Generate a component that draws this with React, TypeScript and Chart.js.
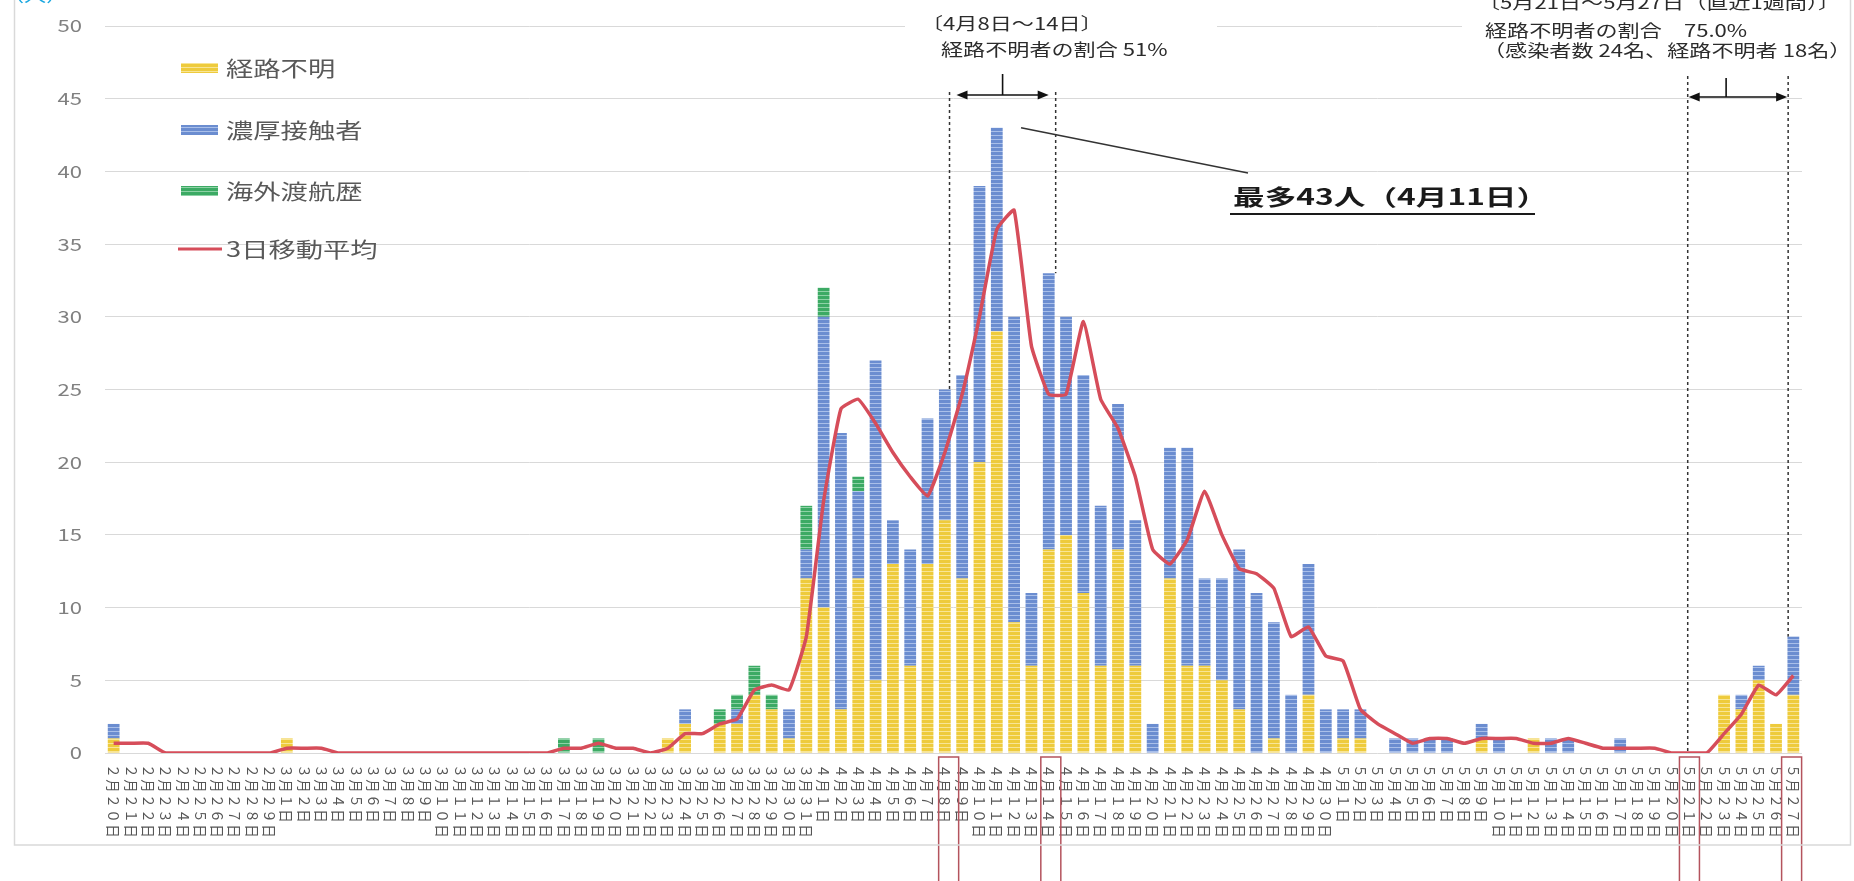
import React, { useEffect, useRef } from "react";
import { Chart, registerables } from "chart.js";

Chart.register(...registerables);

// ---------- data ----------
const categories = [
  "2月20日", "2月21日", "2月22日", "2月23日", "2月24日", "2月25日", "2月26日", "2月27日", "2月28日", "2月29日",
  "3月1日", "3月2日", "3月3日", "3月4日", "3月5日", "3月6日", "3月7日", "3月8日", "3月9日", "3月10日",
  "3月11日", "3月12日", "3月13日", "3月14日", "3月15日", "3月16日", "3月17日", "3月18日", "3月19日", "3月20日",
  "3月21日", "3月22日", "3月23日", "3月24日", "3月25日", "3月26日", "3月27日", "3月28日", "3月29日", "3月30日",
  "3月31日", "4月1日", "4月2日", "4月3日", "4月4日", "4月5日", "4月6日", "4月7日", "4月8日", "4月9日",
  "4月10日", "4月11日", "4月12日", "4月13日", "4月14日", "4月15日", "4月16日", "4月17日", "4月18日", "4月19日",
  "4月20日", "4月21日", "4月22日", "4月23日", "4月24日", "4月25日", "4月26日", "4月27日", "4月28日", "4月29日",
  "4月30日", "5月1日", "5月2日", "5月3日", "5月4日", "5月5日", "5月6日", "5月7日", "5月8日", "5月9日",
  "5月10日", "5月11日", "5月12日", "5月13日", "5月14日", "5月15日", "5月16日", "5月17日", "5月18日", "5月19日",
  "5月20日", "5月21日", "5月22日", "5月23日", "5月24日", "5月25日", "5月26日", "5月27日",
];

const unknownRoute = [
  1, 0, 0, 0, 0, 0, 0, 0, 0, 0,
  1, 0, 0, 0, 0, 0, 0, 0, 0, 0,
  0, 0, 0, 0, 0, 0, 0, 0, 0, 0,
  0, 0, 1, 2, 0, 2, 2, 4, 3, 1,
  12, 10, 3, 12, 5, 13, 6, 13, 16, 12,
  20, 29, 9, 6, 14, 15, 11, 6, 14, 6,
  0, 12, 6, 6, 5, 3, 0, 1, 0, 4,
  0, 1, 1, 0, 0, 0, 0, 0, 0, 1,
  0, 0, 1, 0, 0, 0, 0, 0, 0, 0,
  0, 0, 0, 4, 3, 5, 2, 4,
];

const closeContact = [
  1, 0, 0, 0, 0, 0, 0, 0, 0, 0,
  0, 0, 0, 0, 0, 0, 0, 0, 0, 0,
  0, 0, 0, 0, 0, 0, 0, 0, 0, 0,
  0, 0, 0, 1, 0, 0, 1, 0, 0, 2,
  2, 20, 19, 6, 22, 3, 8, 10, 9, 14,
  19, 14, 21, 5, 19, 15, 15, 11, 10, 10,
  2, 9, 15, 6, 7, 11, 11, 8, 4, 9,
  3, 2, 2, 0, 1, 1, 1, 1, 0, 1,
  1, 0, 0, 1, 1, 0, 0, 1, 0, 0,
  0, 0, 0, 0, 1, 1, 0, 4,
];

const overseasTravel = [
  0, 0, 0, 0, 0, 0, 0, 0, 0, 0,
  0, 0, 0, 0, 0, 0, 0, 0, 0, 0,
  0, 0, 0, 0, 0, 0, 1, 0, 1, 0,
  0, 0, 0, 0, 0, 1, 1, 2, 1, 0,
  3, 2, 0, 1, 0, 0, 0, 0, 0, 0,
  0, 0, 0, 0, 0, 0, 0, 0, 0, 0,
  0, 0, 0, 0, 0, 0, 0, 0, 0, 0,
  0, 0, 0, 0, 0, 0, 0, 0, 0, 0,
  0, 0, 0, 0, 0, 0, 0, 0, 0, 0,
  0, 0, 0, 0, 0, 0, 0, 0,
];

const movingAverage3 = [
  0.67, 0.67, 0.67, 0, 0, 0, 0, 0, 0, 0,
  0.33, 0.33, 0.33, 0, 0, 0, 0, 0, 0, 0,
  0, 0, 0, 0, 0, 0, 0.33, 0.33, 0.67, 0.33,
  0.33, 0, 0.33, 1.33, 1.33, 2, 2.33, 4.33, 4.67, 4.33,
  8, 17.33, 23.67, 24.33, 22.67, 20.67, 19, 17.67, 20.67, 24.67,
  30, 36, 37.33, 28, 24.67, 24.67, 29.67, 24.33, 22.33, 19,
  14, 13, 14.67, 18, 15, 12.67, 12.33, 11.33, 8, 8.67,
  6.67, 6.33, 3, 2, 1.33, 0.67, 1, 1, 0.67, 1,
  1, 1, 0.67, 0.67, 1, 0.67, 0.33, 0.33, 0.33, 0.33,
  0, 0, 0, 1.33, 2.67, 4.67, 4, 5.33,
];

const seriesNames = ["経路不明", "濃厚接触者", "海外渡航歴", "3日移動平均"];
const yMin = 0;
const yMax = 50;
const yStep = 5;

// annotation texts
const noteLeft = ["〔4月8日～14日〕", "経路不明者の割合 51%"];
const noteRight = ["〔5月21日～5月27日（直近1週間）〕", "経路不明者の割合　75.0%", "（感染者数 24名、経路不明者 18名）"];
const notePeak = "最多43人（4月11日）";
const peakIndex = 51;
const unitText = "（人）";

// ---------- layout / style constants ----------
const W = 1854;
const H = 881;
const FONT = '"Noto Sans CJK JP", "Noto Sans", sans-serif';
const LINE_COLOR = "#d64d5a";

const dashMarks = [
  { idx: 48, off: 0.27, top: 92 },
  { idx: 54, off: 0.4, top: 92 },
  { idx: 91, off: -0.1, top: 76 },
  { idx: 97, off: -0.3, top: 76 },
];
const boxMarks = [
  { idx: 48, off: 0.22 },
  { idx: 54, off: 0.12 },
  { idx: 91, off: 0 },
  { idx: 97, off: -0.1 },
];

function makePattern(ctx: CanvasRenderingContext2D, base: string, stripe: string) {
  const c = document.createElement("canvas");
  c.width = 4;
  c.height = 4;
  const g = c.getContext("2d")!;
  g.fillStyle = base;
  g.fillRect(0, 0, 4, 4);
  g.fillStyle = stripe;
  g.fillRect(0, 3, 4, 1);
  return ctx.createPattern(c, "repeat")!;
}

function sText(
  ctx: CanvasRenderingContext2D,
  text: string,
  x: number,
  y: number,
  font: string,
  color: string,
  align: CanvasTextAlign = "left",
  sx = 1.3
) {
  ctx.save();
  ctx.translate(x, y);
  ctx.scale(sx, 1);
  ctx.font = font;
  ctx.fillStyle = color;
  ctx.textAlign = align;
  ctx.textBaseline = "middle";
  ctx.fillText(text, 0, 0);
  ctx.restore();
}

function arrowHead(ctx: CanvasRenderingContext2D, tipX: number, y: number, dir: number) {
  ctx.beginPath();
  ctx.moveTo(tipX, y);
  ctx.lineTo(tipX - dir * 11, y - 4.5);
  ctx.lineTo(tipX - dir * 11, y + 4.5);
  ctx.closePath();
  ctx.fill();
}

const toWide = (s: string) => s.replace(/[0-9]/g, (d) => String.fromCharCode(d.charCodeAt(0) + 0xfee0));
const totalAt = (i: number) => unknownRoute[i] + closeContact[i] + overseasTravel[i];

const annotationPlugin = {
  id: "annotations",
  beforeDatasetsDraw(chart: any) {
    const { ctx } = chart;
    const x = chart.scales.x;
    const y = chart.scales.y;
    const step = x.getPixelForValue(1) - x.getPixelForValue(0);
    ctx.save();
    // white backgrounds behind annotation texts
    ctx.fillStyle = "#ffffff";
    ctx.fillRect(905, 6, 312, 56);
    ctx.fillRect(1462, 0, W - 1462, 62);
    // dashed range markers (behind the bars)
    ctx.setLineDash([3, 3]);
    ctx.strokeStyle = "#333333";
    ctx.lineWidth = 1.5;
    for (const d of dashMarks) {
      const px = x.getPixelForValue(d.idx) + d.off * step;
      ctx.beginPath();
      ctx.moveTo(px, d.top);
      ctx.lineTo(px, y.getPixelForValue(totalAt(d.idx)));
      ctx.stroke();
    }
    ctx.restore();
  },
  afterDraw(chart: any) {
    const { ctx } = chart;
    const x = chart.scales.x;
    const y = chart.scales.y;
    const step = x.getPixelForValue(1) - x.getPixelForValue(0);
    const dashX = dashMarks.map((d) => x.getPixelForValue(d.idx) + d.off * step);

    ctx.save();
    // y tick labels
    for (const t of y.ticks) {
      sText(ctx, String(t.value), 82, y.getPixelForValue(t.value), `17px ${FONT}`, "#808080", "right", 1.3);
    }

    // x tick labels, rotated 90deg clockwise, one character per cell
    ctx.fillStyle = "#555555";
    ctx.font = `13.5px ${FONT}`;
    ctx.textAlign = "center";
    ctx.textBaseline = "middle";
    for (let i = 0; i < categories.length; i++) {
      const px = x.getPixelForValue(i);
      Array.from(toWide(categories[i])).forEach((ch, k) => {
        ctx.save();
        ctx.translate(px, 771 + k * 15);
        ctx.scale(1.05, 1);
        ctx.rotate(Math.PI / 2);
        ctx.fillText(ch, 0, 0);
        ctx.restore();
      });
    }

    // red boxes around highlighted date labels
    ctx.strokeStyle = "#b4535d";
    ctx.lineWidth = 1.5;
    for (const b of boxMarks) {
      const px = x.getPixelForValue(b.idx) + b.off * step;
      ctx.strokeRect(px - 10, 757, 20, 140);
    }

    // double arrows
    ctx.fillStyle = "#111111";
    ctx.strokeStyle = "#111111";
    ctx.lineWidth = 1.6;
    const arrows = [
      { a: 0, b: 1, yy: 95, inset: 7, tickTop: 74, frac: 0.5 },
      { a: 2, b: 3, yy: 97, inset: 1, tickTop: 78, frac: 0.38 },
    ];
    for (const ar of arrows) {
      const x1 = dashX[ar.a] + ar.inset;
      const x2 = dashX[ar.b] - ar.inset;
      ctx.beginPath();
      ctx.moveTo(x1 + 6, ar.yy);
      ctx.lineTo(x2 - 6, ar.yy);
      ctx.stroke();
      arrowHead(ctx, x1, ar.yy, -1);
      arrowHead(ctx, x2, ar.yy, 1);
      const tx = x1 + (x2 - x1) * ar.frac;
      ctx.beginPath();
      ctx.moveTo(tx, ar.tickTop);
      ctx.lineTo(tx, ar.yy);
      ctx.stroke();
    }

    // annotation texts
    sText(ctx, noteLeft[0], 921, 24, `17px ${FONT}`, "#2b2b2b");
    sText(ctx, noteLeft[1], 941, 50, `17px ${FONT}`, "#2b2b2b");
    sText(ctx, noteRight[0], 1478, 3, `17px ${FONT}`, "#2b2b2b");
    sText(ctx, noteRight[1], 1485, 31, `17px ${FONT}`, "#2b2b2b");
    sText(ctx, noteRight[2], 1483, 51, `17px ${FONT}`, "#2b2b2b");

    // peak leader line + label
    ctx.strokeStyle = "#333333";
    ctx.lineWidth = 1.4;
    ctx.beginPath();
    ctx.moveTo(x.getPixelForValue(peakIndex) + 1.4 * step, y.getPixelForValue(totalAt(peakIndex)));
    ctx.lineTo(1248, 173);
    ctx.stroke();
    sText(ctx, notePeak, 1233, 197, `bold 22px ${FONT}`, "#1a1a1a", "left", 1.44);
    ctx.fillStyle = "#1a1a1a";
    ctx.fillRect(1230, 213, 305, 2);

    // legend
    const ds = chart.data.datasets;
    const legendY = [68, 130, 191, 249];
    for (let k = 0; k < 3; k++) {
      ctx.fillStyle = ds[k].backgroundColor;
      ctx.fillRect(181, legendY[k] - 5, 37, 10);
      sText(ctx, ds[k].label, 226, legendY[k], `21px ${FONT}`, "#595959", "left", 1.3);
    }
    ctx.strokeStyle = ds[3].borderColor;
    ctx.lineWidth = 3;
    ctx.beginPath();
    ctx.moveTo(178, legendY[3]);
    ctx.lineTo(222, legendY[3]);
    ctx.stroke();
    sText(ctx, ds[3].label, 226, legendY[3], `21px ${FONT}`, "#595959", "left", 1.3);

    // unit label (cut off at the top)
    sText(ctx, unitText, 2, -4, `17px ${FONT}`, "#19a7e0", "left", 1.3);

    // outer frame
    ctx.strokeStyle = "#d9d9d9";
    ctx.lineWidth = 1.5;
    ctx.strokeRect(14.5, -5, 1836, 850);
    ctx.restore();
  },
};

export default function App() {
  const ref = useRef<HTMLCanvasElement>(null);

  useEffect(() => {
    document.body.style.margin = "0";
    const canvas = ref.current!;
    const ctx = canvas.getContext("2d")!;
    const yellow = makePattern(ctx, "#eecb3c", "#f8e596");
    const blue = makePattern(ctx, "#6b8dd0", "#a9bfe9");
    const green = makePattern(ctx, "#3caa64", "#8ed2a6");

    const chart = new Chart(canvas, {
      type: "bar",
      data: {
        labels: categories,
        datasets: [
          { label: seriesNames[0], data: unknownRoute, backgroundColor: yellow, stack: "cases", order: 1, barPercentage: 0.68, categoryPercentage: 1 },
          { label: seriesNames[1], data: closeContact, backgroundColor: blue, stack: "cases", order: 1, barPercentage: 0.68, categoryPercentage: 1 },
          { label: seriesNames[2], data: overseasTravel, backgroundColor: green, stack: "cases", order: 1, barPercentage: 0.68, categoryPercentage: 1 },
          {
            type: "line",
            label: seriesNames[3],
            data: movingAverage3,
            borderColor: LINE_COLOR,
            backgroundColor: LINE_COLOR,
            borderWidth: 3.5,
            pointRadius: 0,
            tension: 0.12,
            stack: "avg",
            order: 0,
          } as any,
        ],
      },
      options: {
        responsive: false,
        animation: false,
        layout: { padding: { top: 26, right: 52, bottom: 0, left: 0 } },
        plugins: { legend: { display: false }, tooltip: { enabled: false } },
        scales: {
          x: {
            stacked: true,
            grid: { display: false },
            border: { display: false },
            ticks: { display: false },
            afterFit: (s: any) => {
              s.height = 128;
            },
          },
          y: {
            stacked: true,
            min: yMin,
            max: yMax,
            ticks: { stepSize: yStep, display: false },
            grid: { color: "#d9d9d9", lineWidth: 1, drawTicks: false },
            border: { display: false },
            afterFit: (s: any) => {
              s.width = 105;
            },
          },
        },
      },
      plugins: [annotationPlugin],
    });

    return () => chart.destroy();
  }, []);

  return <canvas ref={ref} width={W} height={H} style={{ display: "block" }} />;
}
